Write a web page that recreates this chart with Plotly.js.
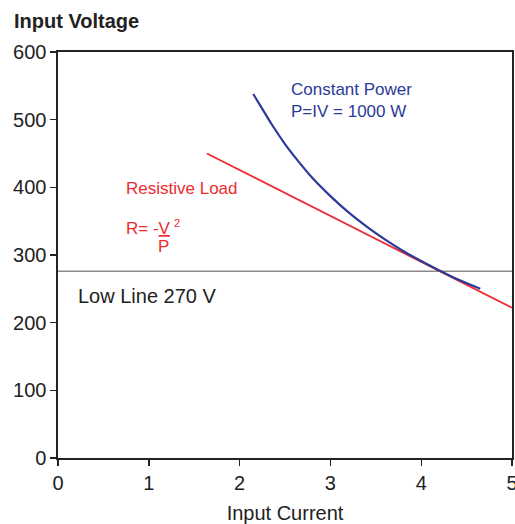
<!DOCTYPE html>
<html>
<head>
<meta charset="utf-8">
<script src="https://cdn.plot.ly/plotly-3.0.1.min.js"></script>
<style>html,body{margin:0;padding:0;background:#fff;}#chart{width:515px;height:524px;}</style>
</head>
<body>
<div id="chart"></div>
<script>
// Constant power curve
var cpCurrent = [2.15, 2.25, 2.35, 2.50, 2.65, 2.80, 3.00, 3.20, 3.40, 3.60, 3.80, 4.00, 4.20, 4.40, 4.65];
var cpVoltage = [538, 516, 494, 464, 438, 414, 387, 363, 342, 323, 306, 291, 277, 264, 250];
// Resistive load line
var rlCurrent = [1.64, 5.0];
var rlVoltage = [450, 222];
// Low line
var lowLineCurrent = [0, 5];
var lowLineVoltage = [276, 276];

var xTicks = [0, 1, 2, 3, 4, 5];
var yTicks = [0, 100, 200, 300, 400, 500, 600];

var FONT = 'Liberation Sans, Arial, Helvetica, sans-serif';
var BLUE = '#2b3a98';
var RED = '#ee2a2f';

var traces = [
  {x: lowLineCurrent, y: lowLineVoltage, mode: 'lines', line: {color: '#8a8a8a', width: 1.3}, hoverinfo: 'skip'},
  {x: rlCurrent, y: rlVoltage, mode: 'lines', line: {color: RED, width: 1.8}},
  {x: cpCurrent, y: cpVoltage, mode: 'lines', line: {color: BLUE, width: 2.2, shape: 'spline', smoothing: 0.8}}
];

var layout = {
  width: 515, height: 524,
  margin: {l: 58, r: 3, t: 52, b: 66, autoexpand: false},
  paper_bgcolor: '#fff', plot_bgcolor: '#fff',
  showlegend: false,
  font: {family: FONT, size: 20, color: '#222'},
  title: {text: '<b>Input Voltage</b>', font: {family: FONT, size: 20, color: '#222'},
          x: 14/515, xanchor: 'left', xref: 'container', y: 1 - 21/524, yanchor: 'middle', yref: 'container'},
  xaxis: {
    range: [0, 5], tickvals: xTicks, ticktext: xTicks.map(String),
    showgrid: false, zeroline: false, showline: true, linecolor: '#222', linewidth: 1.6, mirror: true,
    ticks: 'outside', ticklen: 6, tickwidth: 1.4, tickcolor: '#222', ticklabeloverflow: 'allow',
    tickfont: {family: FONT, size: 20, color: '#222'},
    title: {text: 'Input Current', font: {family: FONT, size: 20, color: '#222'}, standoff: 14},
    fixedrange: true
  },
  yaxis: {
    range: [0, 600], tickvals: yTicks, ticktext: yTicks.map(String),
    showgrid: false, zeroline: false, showline: true, linecolor: '#222', linewidth: 1.6, mirror: true,
    ticks: 'outside', ticklen: 6, tickwidth: 1.4, tickcolor: '#222', ticklabeloverflow: 'allow',
    tickfont: {family: FONT, size: 20, color: '#222'},
    fixedrange: true
  },
  annotations: [
    {x: 2.547, y: 528, xref: 'x', yref: 'y', xanchor: 'left', yanchor: 'middle', align: 'left', showarrow: false,
     text: 'Constant Power<br>P=IV = 1000 W', font: {family: FONT, size: 17, color: BLUE}},
    {x: 0.728, y: 399, xref: 'x', yref: 'y', xanchor: 'left', yanchor: 'middle', align: 'left', showarrow: false,
     text: 'Resistive Load', font: {family: FONT, size: 17, color: RED}},
    {x: 0.728, y: 322, xref: 'x', yref: 'y', xanchor: 'left', yanchor: 'bottom', align: 'left', showarrow: false,
     text: 'R= -<u>V</u><span style="font-size:11px"> </span>', font: {family: FONT, size: 17, color: RED}},
    {x: 1.255, y: 347, xref: 'x', yref: 'y', xanchor: 'left', yanchor: 'middle', showarrow: false,
     text: '2', font: {family: FONT, size: 11, color: RED}},
    {x: 1.158, y: 313, xref: 'x', yref: 'y', xanchor: 'center', yanchor: 'middle', showarrow: false,
     text: 'P', font: {family: FONT, size: 17, color: RED}},
    {x: 0.198, y: 240, xref: 'x', yref: 'y', xanchor: 'left', yanchor: 'middle', align: 'left', showarrow: false,
     text: 'Low Line 270 V', font: {family: FONT, size: 20, color: '#222'}}
  ]
};

Plotly.newPlot('chart', traces, layout, {displayModeBar: false, staticPlot: true});
</script>
</body>
</html>
